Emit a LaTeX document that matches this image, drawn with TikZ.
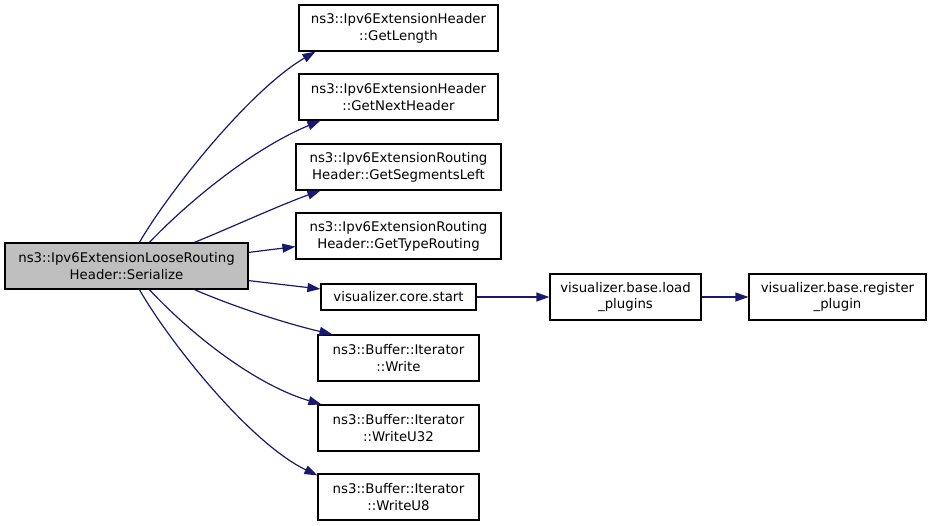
\documentclass[tikz,border=0pt]{standalone}
\usepackage{fontspec}
\setmainfont{DejaVu Sans}
\usetikzlibrary{arrows.meta,calc}
\definecolor{edgeblue}{HTML}{191970}
\definecolor{mainfill}{HTML}{BFBFBF}
\begin{document}
\begin{tikzpicture}[x=1pt,y=-1pt,
  box/.style={draw=black,line width=1.2pt,fill=white,inner sep=0pt,align=center,
    font=\fontsize{13.3}{16.7}\selectfont,minimum height=46pt},
  edge/.style={draw=edgeblue,line width=1.2pt,-{Triangle[length=13pt,width=9pt]}}]
\useasboundingbox (0,0) rectangle (931,525);
\node[box,fill=mainfill,minimum width=243pt] (m) at (126.5,266) {ns3::Ipv6ExtensionLooseRouting\\Header::Serialize};
\node[box,minimum width=199pt] (n1) at (398.5,28) {ns3::Ipv6ExtensionHeader\\::GetLength};
\node[box,minimum width=199pt] (n2) at (398.5,97) {ns3::Ipv6ExtensionHeader\\::GetNextHeader};
\node[box,minimum width=205pt] (n3) at (398.5,167) {ns3::Ipv6ExtensionRouting\\Header::GetSegmentsLeft};
\node[box,minimum width=205pt] (n4) at (398.5,236) {ns3::Ipv6ExtensionRouting\\Header::GetTypeRouting};
\node[box,minimum width=155pt,minimum height=26pt] (n5) at (398.5,297) {visualizer.core.start};
\node[box,minimum width=161pt] (n6) at (398.5,358) {ns3::Buffer::Iterator\\::Write};
\node[box,minimum width=161pt] (n7) at (398.5,428) {ns3::Buffer::Iterator\\::WriteU32};
\node[box,minimum width=161pt] (n8) at (398.5,497) {ns3::Buffer::Iterator\\::WriteU8};
\node[box,minimum width=151pt] (p1) at (625.5,297) {visualizer.base.load\\\_plugins};
\node[box,minimum width=177pt] (p2) at (837.5,297) {visualizer.base.register\\\_plugin};
% edges
\draw[edge] ($(m.north west)+(135,0)$) .. controls (170,190) and (250,90) .. ($(n1.south west)+(17,0)$);
\draw[edge] ($(m.north west)+(145,0)$) .. controls (185,205) and (250,150) .. ($(n2.south west)+(22,0)$);
\draw[edge] ($(m.north west)+(190,0)$) .. controls (230,228) and (280,205) .. ($(n3.south west)+(25,0)$);
\draw[edge] ($(m.north east)+(0,10)$) -- ($(n4.south west)+(0,-13)$);
\draw[edge] ($(m.south east)+(0,-9)$) -- ($(n5.west)+(0,-8)$);
\draw[edge] ($(m.south west)+(190,0)$) .. controls (230,305) and (280,322) .. ($(n6.north west)+(15,0)$);
\draw[edge] ($(m.south west)+(145,0)$) .. controls (185,328) and (250,383) .. ($(n7.north west)+(4,0)$);
\draw[edge] ($(m.south west)+(135,0)$) .. controls (170,343) and (250,443) .. ($(n8.north west)+(0,2)$);
\draw[edge] (n5.east) -- (p1.west);
\draw[edge] (p1.east) -- (p2.west);
\end{tikzpicture}
\end{document}
